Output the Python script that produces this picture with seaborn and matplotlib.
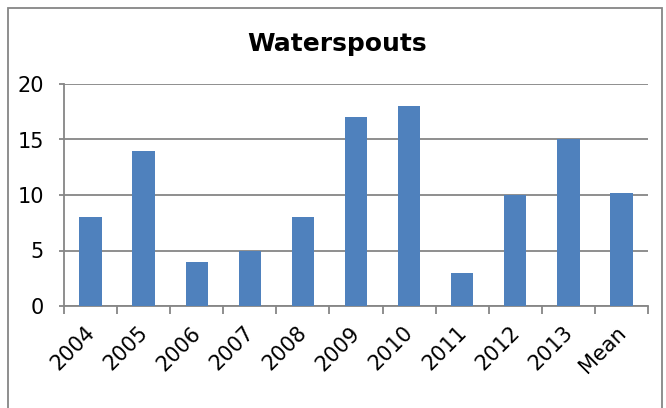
import matplotlib
matplotlib.use("Agg")
import matplotlib.pyplot as plt
import matplotlib.transforms as mtransforms
import seaborn as sns
import numpy as np
from matplotlib.patches import Rectangle

categories = ["2004", "2005", "2006", "2007", "2008", "2009", "2010", "2011", "2012", "2013", "Mean"]
values = [8, 14, 4, 5, 8, 17, 18, 3, 10, 15, 10.2]
title = "Waterspouts"

sns.set_style("white")
plt.rcParams['font.family'] = ['DejaVu Sans']
plt.rcParams['text.color'] = 'black'
plt.rcParams['xtick.color'] = 'black'
plt.rcParams['ytick.color'] = 'black'

fig = plt.figure(figsize=(6.66, 4.08), dpi=100)
ax = fig.add_axes([64/666, 1-306/408, (648-64)/666, (306-84)/408])

sns.barplot(x=categories, y=values, color="#4F81BD", saturation=1, width=0.42, ax=ax,
            zorder=3, linewidth=0)

ax.set_ylim(0, 20)
ax.set_xlim(-0.5, len(categories)-0.5)
ax.set_yticks([0, 5, 10, 15, 20])
ax.yaxis.grid(True, color="#868686", linewidth=1.3, zorder=0)
ax.set_axisbelow(True)
for s in ["top", "right"]:
    ax.spines[s].set_visible(False)
for s in ["left", "bottom"]:
    ax.spines[s].set_color("#868686")
    ax.spines[s].set_linewidth(1.3)

ax.set_xticks(np.arange(len(categories)))
ax.set_xticklabels(categories, rotation=45, ha="right", rotation_mode="anchor")
ax.tick_params(axis="x", which="major", bottom=True, length=0, labelsize=15, pad=12, labelcolor="black")
ax.set_xticks(np.arange(-0.5, len(categories), 1), minor=True)
ax.tick_params(axis="x", which="minor", bottom=True, length=6, width=1.3, color="#868686", direction="out")
ax.tick_params(axis="y", left=True, length=3.6, width=1.3, color="#868686", direction="out",
               labelsize=15, pad=11, labelcolor="black")
offset = mtransforms.ScaledTranslation(-6/100, 0, fig.dpi_scale_trans)
for lab in ax.get_xticklabels():
    lab.set_transform(lab.get_transform() + offset)
ax.set_xlabel("")
ax.set_ylabel("")

fig.text(337/666, 1-51/408, title, ha="center", va="baseline",
         fontsize=18, fontweight="bold", color="black")

fig.patches.append(Rectangle((8/666, -0.01), (662-8)/666, 1-8/408+0.01, transform=fig.transFigure,
                             fill=False, edgecolor="#868686", linewidth=1.3))

fig.savefig("out.png", dpi=100)
